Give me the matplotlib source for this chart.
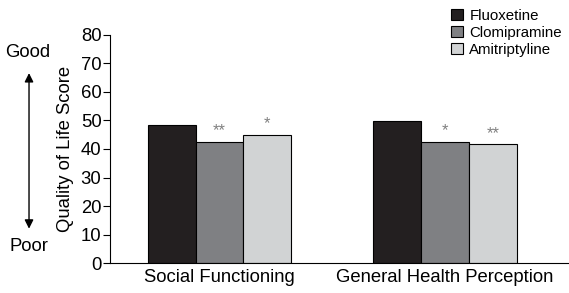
import numpy as np
import matplotlib.pyplot as plt

# data
categories = ['Social Functioning', 'General Health Perception']
drugs = ['Fluoxetine', 'Clomipramine', 'Amitriptyline']
fluoxetine = [48.4, 49.8]
clomipramine = [42.5, 42.5]
amitriptyline = [45.0, 41.7]
stars = [['', '**', '*'], ['', '*', '**']]
yticks = [0, 10, 20, 30, 40, 50, 60, 70, 80]

colors = ['#231f20', '#7f8083', '#d1d3d4']

plt.rcParams['font.family'] = ['Liberation Sans', 'DejaVu Sans']
fig = plt.figure(figsize=(5.69, 2.93), dpi=100)
ax = fig.add_axes([0.193, 0.102, 0.807, 0.779])

w = 0.212
x = np.arange(len(categories))
series = [fluoxetine, clomipramine, amitriptyline]
for k, vals in enumerate(series):
    pos = x + (k - 1) * w
    ax.bar(pos, vals, w, color=colors[k], edgecolor='black', linewidth=0.8, label=drugs[k])
    for i in range(len(categories)):
        if stars[i][k]:
            ax.text(pos[i], vals[i] + 1.2, stars[i][k], ha='center', va='bottom',
                    fontsize=12, color='#808080')

ax.set_xlim(-0.487, 1.55)
ax.set_ylim(0, 80)
ax.set_yticks(yticks)
ax.set_xticks(x)
ax.set_xticklabels(categories, fontsize=13.3)
ax.tick_params(axis='x', length=0, pad=4)
ax.tick_params(axis='y', direction='out', length=5, width=0.8, labelsize=13.3, pad=1)
ax.spines['top'].set_visible(False)
ax.spines['right'].set_visible(False)
ax.spines['left'].set_linewidth(0.8)
ax.spines['bottom'].set_linewidth(0.8)
ax.set_ylabel('Quality of Life Score', fontsize=13.3, labelpad=5)

fig.text(0.049, 0.822, 'Good', ha='center', va='center', fontsize=13.3)
fig.text(0.051, 0.157, 'Poor', ha='center', va='center', fontsize=13.3)
fig.patches.append(plt.matplotlib.patches.FancyArrowPatch(
    (0.051, 0.21), (0.051, 0.76), transform=fig.transFigure,
    arrowstyle='<|-|>', mutation_scale=13, color='black', linewidth=1.0))

leg = fig.legend(loc='upper left', bbox_to_anchor=(0.772, 1.01), frameon=False,
                 fontsize=10.8, handlelength=0.75, handleheight=0.75, handletextpad=0.45,
                 labelspacing=0.2, borderpad=0.3)

fig.savefig('out.png', dpi=100)
